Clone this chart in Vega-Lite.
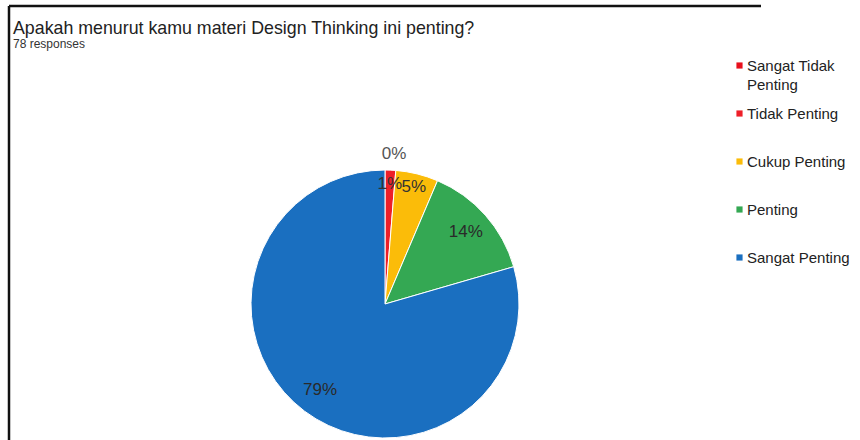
{
  "$schema": "https://vega.github.io/schema/vega-lite/v6.json",
  "autosize": "none",
  "width": 752,
  "height": 596,
  "padding": {"left": 9, "top": 6, "right": 99, "bottom": 0},
  "background": "white",
  "view": {"stroke": "#111111", "strokeWidth": 2.5, "strokeDash": [752, 1348, 596, 0]},
  "title": {
    "text": "Apakah menurut kamu materi Design Thinking ini penting?",
    "subtitle": "78 responses",
    "anchor": "start",
    "frame": "group",
    "offset": -44,
    "dx": 4,
    "font": "Liberation Sans",
    "fontSize": 17.8,
    "fontWeight": "normal",
    "color": "#222222",
    "subtitleFont": "Liberation Sans",
    "subtitleFontSize": 12,
    "subtitleColor": "#333333",
    "subtitlePadding": 1
  },
  "data": {
    "values": [
      {"idx": 1, "kategori": "Sangat Tidak Penting", "count": 0, "pct": "0%"},
      {"idx": 2, "kategori": "Tidak Penting", "count": 1, "pct": "1%"},
      {"idx": 3, "kategori": "Cukup Penting", "count": 4, "pct": "5%"},
      {"idx": 4, "kategori": "Penting", "count": 11, "pct": "14%"},
      {"idx": 5, "kategori": "Sangat Penting", "count": 62, "pct": "79%"}
    ]
  },
  "encoding": {
    "theta": {"field": "count", "type": "quantitative", "stack": true},
    "order": {"field": "idx", "type": "quantitative"}
  },
  "layer": [
    {
      "mark": {"type": "arc", "outerRadius": 134, "stroke": "white", "strokeWidth": 1},
      "encoding": {
        "color": {
          "field": "kategori",
          "type": "nominal",
          "sort": ["Sangat Tidak Penting", "Tidak Penting", "Cukup Penting", "Penting", "Sangat Penting"],
          "scale": {
            "domain": ["Sangat Tidak Penting", "Tidak Penting", "Cukup Penting", "Penting", "Sangat Penting"],
            "range": ["#e8101c", "#ee1f28", "#fbbc09", "#34a853", "#1a6fc0"]
          },
          "legend": {
            "orient": "none",
            "legendX": 723,
            "legendY": 52,
            "title": null,
            "padding": 0,
            "symbolType": "square",
            "symbolSize": 38,
            "symbolStrokeWidth": 0,
            "labelFont": "Liberation Sans",
            "labelFontSize": 15,
            "labelColor": "#222222",
            "labelOffset": 0,
            "labelLimit": 200,
            "gridAlign": "all",
            "rowPadding": 13,
            "labelExpr": "datum.label == 'Sangat Tidak Penting' ? ['Sangat Tidak', 'Penting'] : datum.label"
          }
        }
      }
    },
    {
      "mark": {"type": "text", "radius": 108, "font": "Liberation Sans", "fontSize": 17, "color": "#2a2a2a"},
      "encoding": {
        "text": {"condition": {"test": "datum.count >= 10", "field": "pct"}, "value": ""}
      }
    },
    {
      "mark": {"type": "text", "radius": 120, "font": "Liberation Sans", "fontSize": 17, "color": "#333333"},
      "encoding": {
        "text": {"condition": {"test": "datum.count > 0 && datum.count < 10", "field": "pct"}, "value": ""}
      }
    },
    {
      "mark": {"type": "text", "radius": 150, "dx": 9, "font": "Liberation Sans", "fontSize": 17, "color": "#555555"},
      "encoding": {
        "text": {"condition": {"test": "datum.count == 0", "field": "pct"}, "value": ""}
      }
    }
  ],
  "config": {
    "style": {"guide-label": {"lineHeight": 19}}
  }
}
